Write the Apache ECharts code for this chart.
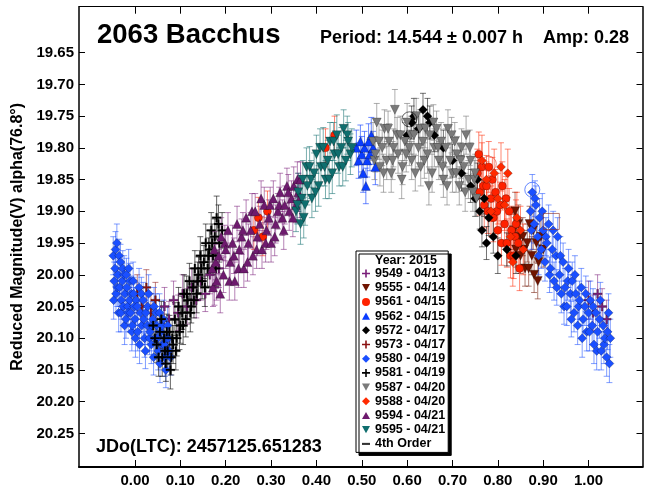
<!DOCTYPE html>
<html>
<head>
<meta charset="utf-8">
<script src="https://cdn.jsdelivr.net/npm/echarts@6/dist/echarts.min.js"></script>
<style>
  html, body { margin: 0; padding: 0; background: #fff; }
  #chart { width: 647px; height: 489px; }
</style>
</head>
<body>
<div id="chart"></div>
<script>
// Lightcurve of 2063 Bacchus, phased to P = 14.544 h.
// Each point: [phase, reduced magnitude, error]

const phaseTicks = [0.0, 0.1, 0.2, 0.3, 0.4, 0.5, 0.6, 0.7, 0.8, 0.9, 1.0];
const magTicks = [19.65, 19.70, 19.75, 19.80, 19.85, 19.90, 19.95, 20.00, 20.05, 20.10, 20.15, 20.20, 20.25];

const s9549 = [
  [0.065, 20.05, 0.030], [0.075, 20.07, 0.028], [0.085, 20.04, 0.030], [0.095, 20.06, 0.028],
  [0.105, 20.03, 0.030], [0.115, 20.05, 0.028], [0.125, 20.02, 0.030], [0.135, 20.04, 0.028],
  [0.145, 20.01, 0.030], [0.155, 20.03, 0.028], [0.165, 20.00, 0.030], [0.175, 20.02, 0.028],
  [0.185, 19.99, 0.030], [1.000, 20.04, 0.030], [1.010, 20.06, 0.028], [1.020, 20.03, 0.030],
  [1.030, 20.05, 0.028], [1.040, 20.07, 0.030]
];
const s9555 = [
  [0.835, 19.93, 0.030], [0.838, 19.90, 0.030], [0.840, 19.96, 0.028], [0.845, 19.92, 0.030],
  [0.848, 19.94, 0.028], [0.850, 19.97, 0.028], [0.855, 19.94, 0.030], [0.858, 19.96, 0.030],
  [0.860, 19.99, 0.028], [0.865, 19.95, 0.030], [0.868, 19.99, 0.028], [0.870, 19.92, 0.028],
  [0.875, 19.97, 0.030], [0.878, 19.93, 0.030], [0.880, 20.00, 0.028], [0.885, 19.95, 0.030],
  [0.888, 20.01, 0.028], [0.890, 19.98, 0.028], [0.895, 19.94, 0.030], [0.900, 19.96, 0.028]
];
const s9561 = [
  [0.262, 19.93, 0.030], [0.272, 19.91, 0.032], [0.282, 19.94, 0.030], [0.292, 19.90, 0.032],
  [0.420, 19.80, 0.030], [0.440, 19.78, 0.030],
  [0.755, 19.84, 0.038], [0.758, 19.81, 0.035], [0.760, 19.87, 0.036], [0.765, 19.83, 0.038],
  [0.768, 19.86, 0.035], [0.770, 19.89, 0.036], [0.775, 19.86, 0.038], [0.778, 19.90, 0.035],
  [0.780, 19.83, 0.040], [0.785, 19.88, 0.036], [0.788, 19.85, 0.035], [0.790, 19.91, 0.038],
  [0.795, 19.87, 0.036], [0.798, 19.90, 0.035], [0.800, 19.93, 0.038], [0.805, 19.89, 0.036],
  [0.808, 19.95, 0.035], [0.810, 19.86, 0.038], [0.815, 19.92, 0.036], [0.818, 19.88, 0.035],
  [0.820, 19.95, 0.038], [0.825, 19.90, 0.036], [0.828, 19.97, 0.035], [0.830, 19.93, 0.038],
  [0.835, 19.97, 0.036], [0.838, 19.94, 0.035], [0.840, 19.92, 0.038], [0.845, 19.95, 0.036],
  [0.848, 19.99, 0.035]
];
const s9562 = [
  [0.488, 19.80, 0.028], [0.493, 19.82, 0.028], [0.497, 19.79, 0.026], [0.500, 19.81, 0.028],
  [0.503, 19.84, 0.030], [0.506, 19.80, 0.026], [0.509, 19.86, 0.028], [0.512, 19.82, 0.026],
  [0.515, 19.79, 0.028], [0.518, 19.81, 0.026], [0.521, 19.78, 0.028], [0.525, 19.80, 0.026],
  [0.530, 19.83, 0.028]
];
const s9572 = [
  [0.600, 19.78, 0.026], [0.610, 19.76, 0.026], [0.615, 19.75, 0.028], [0.625, 19.77, 0.026],
  [0.635, 19.74, 0.026], [0.645, 19.75, 0.028], [0.650, 19.76, 0.026], [0.660, 19.78, 0.026],
  [0.680, 19.80, 0.028], [0.700, 19.82, 0.026], [0.720, 19.84, 0.028], [0.740, 19.86, 0.026],
  [0.750, 19.88, 0.028], [0.755, 19.85, 0.026], [0.760, 19.90, 0.028], [0.765, 19.93, 0.026],
  [0.770, 19.88, 0.028], [0.775, 19.95, 0.026], [0.780, 19.91, 0.028], [0.790, 19.94, 0.026],
  [0.800, 19.97, 0.028], [0.820, 19.96, 0.026], [0.840, 19.97, 0.028]
];
const s9573 = [
  [0.005, 20.03, 0.030], [0.015, 20.05, 0.030], [0.025, 20.02, 0.028], [0.035, 20.06, 0.030],
  [0.045, 20.04, 0.028]
];
const s9580 = [
  [-0.048, 19.97, 0.030], [-0.047, 20.04, 0.030], [-0.046, 20.01, 0.030], [-0.044, 19.99, 0.028],
  [-0.043, 19.96, 0.028], [-0.042, 20.03, 0.030], [-0.040, 19.95, 0.030], [-0.039, 20.02, 0.030],
  [-0.038, 20.00, 0.028], [-0.036, 20.06, 0.030], [-0.035, 19.97, 0.026], [-0.034, 20.02, 0.030],
  [-0.032, 19.98, 0.028], [-0.031, 20.06, 0.030], [-0.030, 20.04, 0.030], [-0.028, 20.01, 0.028],
  [-0.027, 19.99, 0.028], [-0.026, 20.05, 0.030], [-0.024, 20.00, 0.030], [-0.023, 20.08, 0.030],
  [-0.022, 20.03, 0.028], [-0.020, 20.07, 0.030], [-0.019, 20.00, 0.026], [-0.018, 20.02, 0.030],
  [-0.016, 20.05, 0.028], [-0.015, 20.06, 0.030], [-0.014, 19.99, 0.030], [-0.012, 20.04, 0.030],
  [-0.011, 20.01, 0.028], [-0.010, 20.06, 0.030], [-0.008, 20.03, 0.028], [-0.007, 20.09, 0.030],
  [-0.006, 20.08, 0.030], [-0.004, 20.01, 0.030], [-0.003, 20.03, 0.026], [-0.002, 20.05, 0.030],
  [0.000, 20.07, 0.030], [0.001, 20.10, 0.030], [0.003, 20.04, 0.028], [0.005, 20.05, 0.028],
  [0.006, 20.09, 0.030], [0.009, 20.02, 0.030], [0.010, 20.11, 0.030], [0.012, 20.06, 0.030],
  [0.014, 20.03, 0.026], [0.015, 20.08, 0.030], [0.018, 20.04, 0.028], [0.019, 20.07, 0.030],
  [0.021, 20.10, 0.030], [0.023, 20.12, 0.028], [0.024, 20.06, 0.030], [0.027, 20.08, 0.030],
  [0.028, 20.05, 0.030], [0.030, 20.03, 0.030], [0.032, 20.10, 0.026], [0.033, 20.09, 0.030],
  [0.036, 20.11, 0.030], [0.037, 20.08, 0.030], [0.039, 20.07, 0.028], [0.041, 20.13, 0.028],
  [0.042, 20.05, 0.030], [0.045, 20.10, 0.030], [0.046, 20.06, 0.030], [0.048, 20.08, 0.030],
  [0.050, 20.10, 0.026], [0.051, 20.12, 0.030], [0.054, 20.06, 0.030], [0.055, 20.14, 0.030],
  [0.057, 20.09, 0.028], [0.059, 20.08, 0.028], [0.060, 20.11, 0.030], [0.063, 20.07, 0.030],
  [0.064, 20.11, 0.030], [0.066, 20.13, 0.030], [0.068, 20.15, 0.028], [0.069, 20.10, 0.030],
  [0.072, 20.08, 0.030], [0.073, 20.10, 0.030], [0.075, 20.12, 0.030], [0.078, 20.13, 0.028],
  [0.872, 19.90, 0.030], [0.874, 19.93, 0.030], [0.876, 19.87, 0.028], [0.880, 19.92, 0.030],
  [0.882, 19.88, 0.028], [0.884, 19.89, 0.030], [0.888, 19.94, 0.030], [0.890, 19.97, 0.030],
  [0.892, 19.91, 0.030], [0.896, 19.96, 0.030], [0.898, 19.90, 0.028], [0.900, 19.93, 0.030],
  [0.904, 19.98, 0.030], [0.906, 19.94, 0.030], [0.908, 19.95, 0.028], [0.912, 19.92, 0.030],
  [0.914, 20.00, 0.028], [0.916, 19.99, 0.030], [0.920, 19.96, 0.030], [0.922, 19.93, 0.030],
  [0.924, 20.01, 0.030], [0.928, 19.97, 0.030], [0.930, 20.02, 0.028], [0.932, 19.94, 0.030],
  [0.936, 20.00, 0.030], [0.938, 19.97, 0.030], [0.940, 20.03, 0.030], [0.944, 19.98, 0.030],
  [0.946, 20.05, 0.028], [0.948, 20.02, 0.030], [0.952, 20.05, 0.030], [0.954, 20.01, 0.030],
  [0.956, 19.99, 0.030], [0.960, 20.03, 0.030], [0.962, 20.07, 0.028], [0.964, 20.01, 0.030],
  [0.968, 20.06, 0.030], [0.970, 20.00, 0.030], [0.972, 20.03, 0.030], [0.976, 20.08, 0.030],
  [0.978, 20.05, 0.028], [0.980, 20.04, 0.030], [0.984, 20.02, 0.030], [0.986, 20.10, 0.030],
  [0.988, 20.07, 0.030], [0.992, 20.05, 0.030], [0.994, 20.03, 0.028], [0.996, 20.09, 0.030],
  [1.000, 20.06, 0.030], [1.002, 20.09, 0.030], [1.004, 20.04, 0.030], [1.008, 20.08, 0.030],
  [1.010, 20.05, 0.028], [1.012, 20.11, 0.030], [1.016, 20.06, 0.030], [1.018, 20.12, 0.030],
  [1.020, 20.09, 0.030], [1.024, 20.07, 0.030], [1.026, 20.04, 0.028], [1.028, 20.12, 0.030],
  [1.032, 20.08, 0.030], [1.034, 20.11, 0.030], [1.036, 20.10, 0.030], [1.040, 20.13, 0.030],
  [1.042, 20.09, 0.028], [1.044, 20.06, 0.030], [1.046, 20.14, 0.030], [1.048, 20.10, 0.030]
];
const s9581 = [
  [0.040, 20.08, 0.026], [0.044, 20.10, 0.028], [0.048, 20.11, 0.028], [0.052, 20.13, 0.030],
  [0.055, 20.09, 0.026], [0.058, 20.07, 0.028], [0.060, 20.13, 0.030], [0.064, 20.10, 0.026],
  [0.066, 20.12, 0.030], [0.068, 20.14, 0.028], [0.070, 20.09, 0.028], [0.072, 20.12, 0.030],
  [0.076, 20.09, 0.026], [0.078, 20.15, 0.030], [0.080, 20.13, 0.028], [0.082, 20.10, 0.028],
  [0.084, 20.11, 0.030], [0.088, 20.07, 0.026], [0.090, 20.12, 0.030], [0.092, 20.10, 0.028],
  [0.096, 20.05, 0.030], [0.098, 20.09, 0.028], [0.100, 20.08, 0.028], [0.104, 20.06, 0.026],
  [0.106, 20.08, 0.030], [0.108, 20.03, 0.030], [0.112, 20.07, 0.028], [0.114, 20.03, 0.028],
  [0.116, 20.04, 0.030], [0.120, 20.01, 0.028], [0.122, 20.06, 0.030], [0.124, 20.05, 0.026],
  [0.128, 20.02, 0.030], [0.130, 20.04, 0.028], [0.132, 19.99, 0.028], [0.136, 20.03, 0.030],
  [0.138, 20.01, 0.030], [0.140, 20.00, 0.028], [0.144, 19.97, 0.030], [0.146, 19.99, 0.028],
  [0.148, 20.01, 0.028], [0.152, 19.98, 0.026], [0.154, 20.02, 0.030], [0.156, 19.95, 0.030],
  [0.160, 19.99, 0.028], [0.162, 19.97, 0.028], [0.164, 19.96, 0.030], [0.168, 19.93, 0.028],
  [0.170, 19.95, 0.030], [0.172, 19.97, 0.030], [0.176, 19.94, 0.028], [0.178, 19.99, 0.028],
  [0.180, 19.91, 0.034], [0.184, 19.92, 0.030], [0.186, 19.95, 0.030], [0.192, 19.93, 0.028]
];
const s9587 = [
  [0.525, 19.79, 0.030], [0.528, 19.82, 0.030], [0.530, 19.81, 0.028], [0.533, 19.76, 0.030],
  [0.538, 19.79, 0.028], [0.540, 19.83, 0.030], [0.545, 19.80, 0.028], [0.548, 19.84, 0.030],
  [0.550, 19.77, 0.030], [0.555, 19.82, 0.030], [0.558, 19.77, 0.028], [0.560, 19.79, 0.028],
  [0.565, 19.84, 0.030], [0.568, 19.82, 0.030], [0.570, 19.80, 0.030], [0.573, 19.74, 0.032],
  [0.578, 19.78, 0.028], [0.580, 19.81, 0.030], [0.585, 19.78, 0.030], [0.588, 19.85, 0.030],
  [0.590, 19.83, 0.028], [0.595, 19.79, 0.030], [0.598, 19.81, 0.028], [0.600, 19.76, 0.030],
  [0.605, 19.80, 0.028], [0.608, 19.78, 0.030], [0.610, 19.82, 0.030], [0.615, 19.78, 0.030],
  [0.618, 19.84, 0.028], [0.620, 19.75, 0.028], [0.625, 19.80, 0.030], [0.628, 19.77, 0.030],
  [0.630, 19.83, 0.030], [0.635, 19.79, 0.028], [0.638, 19.82, 0.028], [0.640, 19.77, 0.030],
  [0.645, 19.81, 0.030], [0.648, 19.86, 0.030], [0.650, 19.78, 0.028], [0.655, 19.84, 0.030],
  [0.658, 19.76, 0.028], [0.660, 19.80, 0.030], [0.665, 19.77, 0.028], [0.668, 19.80, 0.030],
  [0.670, 19.82, 0.030], [0.675, 19.79, 0.030], [0.678, 19.83, 0.028], [0.680, 19.85, 0.028],
  [0.685, 19.80, 0.030], [0.688, 19.86, 0.030], [0.690, 19.77, 0.030], [0.695, 19.82, 0.028],
  [0.698, 19.78, 0.028], [0.700, 19.84, 0.030], [0.705, 19.79, 0.030], [0.708, 19.84, 0.030],
  [0.710, 19.81, 0.028], [0.715, 19.86, 0.030], [0.718, 19.82, 0.028], [0.720, 19.80, 0.030],
  [0.725, 19.83, 0.028], [0.728, 19.87, 0.030], [0.730, 19.78, 0.030], [0.735, 19.85, 0.030],
  [0.738, 19.80, 0.028], [0.740, 19.82, 0.028], [0.745, 19.87, 0.030], [0.748, 19.85, 0.030],
  [0.750, 19.84, 0.030], [0.753, 19.88, 0.028]
];
const s9588 = [
  [0.765, 19.82, 0.040], [0.775, 19.85, 0.038], [0.785, 19.90, 0.040], [0.792, 19.84, 0.038],
  [0.800, 19.88, 0.040], [0.807, 19.83, 0.038], [0.815, 19.89, 0.040], [0.822, 19.84, 0.038],
  [0.828, 19.94, 0.040], [0.833, 19.98, 0.038], [0.842, 19.91, 0.040], [0.850, 19.93, 0.038],
  [0.856, 19.96, 0.040]
];
const s9594 = [
  [0.170, 19.99, 0.030], [0.172, 20.02, 0.030], [0.175, 19.96, 0.028], [0.178, 19.98, 0.028],
  [0.180, 20.01, 0.030], [0.185, 19.97, 0.028], [0.188, 20.03, 0.030], [0.190, 19.94, 0.030],
  [0.195, 20.00, 0.028], [0.198, 19.95, 0.028], [0.200, 19.96, 0.030], [0.205, 19.93, 0.028],
  [0.208, 20.01, 0.030], [0.210, 19.98, 0.030], [0.215, 19.95, 0.028], [0.218, 19.97, 0.028],
  [0.220, 20.01, 0.030], [0.225, 19.92, 0.028], [0.228, 19.99, 0.030], [0.230, 19.96, 0.030],
  [0.235, 19.94, 0.028], [0.238, 19.93, 0.028], [0.240, 19.99, 0.030], [0.245, 19.91, 0.028],
  [0.248, 19.98, 0.030], [0.250, 19.95, 0.030], [0.255, 19.93, 0.028], [0.258, 19.90, 0.028],
  [0.260, 19.97, 0.030], [0.265, 19.90, 0.028], [0.268, 19.96, 0.030], [0.270, 19.94, 0.030],
  [0.275, 19.92, 0.028], [0.278, 19.88, 0.028], [0.280, 19.96, 0.030], [0.285, 19.89, 0.028],
  [0.288, 19.95, 0.030], [0.290, 19.93, 0.030], [0.295, 19.91, 0.028], [0.298, 19.89, 0.028],
  [0.300, 19.95, 0.030], [0.305, 19.88, 0.028], [0.308, 19.94, 0.030], [0.310, 19.92, 0.030],
  [0.315, 19.90, 0.028], [0.318, 19.89, 0.028], [0.320, 19.87, 0.030], [0.325, 19.91, 0.028],
  [0.328, 19.93, 0.030], [0.330, 19.89, 0.030], [0.335, 19.86, 0.028], [0.338, 19.87, 0.028],
  [0.340, 19.90, 0.030], [0.345, 19.88, 0.028], [0.348, 19.91, 0.030], [0.350, 19.86, 0.030],
  [0.355, 19.89, 0.028], [0.358, 19.85, 0.028], [0.360, 19.87, 0.030], [0.363, 19.88, 0.030],
  [0.365, 19.85, 0.028]
];
const s9595 = [
  [0.355, 19.90, 0.032], [0.358, 19.89, 0.030], [0.360, 19.87, 0.030], [0.365, 19.92, 0.032],
  [0.368, 19.88, 0.030], [0.370, 19.85, 0.030], [0.372, 19.91, 0.032], [0.375, 19.89, 0.032],
  [0.378, 19.83, 0.030], [0.380, 19.86, 0.030], [0.385, 19.83, 0.032], [0.388, 19.85, 0.030],
  [0.390, 19.88, 0.030], [0.395, 19.84, 0.032], [0.398, 19.87, 0.030], [0.400, 19.81, 0.030],
  [0.405, 19.86, 0.032], [0.408, 19.80, 0.030], [0.410, 19.83, 0.030], [0.415, 19.80, 0.032],
  [0.418, 19.83, 0.030], [0.420, 19.85, 0.030], [0.425, 19.82, 0.032], [0.428, 19.85, 0.030],
  [0.430, 19.79, 0.030], [0.435, 19.84, 0.032], [0.438, 19.79, 0.030], [0.440, 19.81, 0.030],
  [0.445, 19.78, 0.032], [0.448, 19.81, 0.030], [0.450, 19.83, 0.030], [0.455, 19.80, 0.032],
  [0.458, 19.83, 0.030], [0.460, 19.77, 0.030], [0.465, 19.82, 0.032], [0.468, 19.78, 0.030],
  [0.470, 19.79, 0.030], [0.475, 19.81, 0.032], [0.478, 19.80, 0.030]
];

// ringed points: [phase, magnitude]
const ringedBlack = [[0.605, 19.755]];
const ringedRed = [[0.780, 19.825]];
const ringedBlue = [[0.876, 19.866]];
const boxedMaroon = [[0.918, 19.916]];

// marker shapes
const PLUS = 'path://M4,0H6V4H10V6H6V10H4V6H0V4H4Z';
const TRI_DOWN = 'path://M0,0L10,0L5,9Z';
const TRI_UP = 'path://M5,0L10,9L0,9Z';
const DIAMOND = 'path://M5,0L10,5L5,10L0,5Z';
const CIRCLE = 'circle';
const LINE = 'path://M0,0H10V2.6H0Z';

const sessions = [
  { name: '9549 - 04/13', data: s9549, color: '#7a1e7a', bar: 'rgba(122,30,122,0.55)', symbol: PLUS, size: 9 },
  { name: '9555 - 04/14', data: s9555, color: '#701400', bar: 'rgba(112,20,0,0.55)', symbol: TRI_DOWN, size: 9 },
  { name: '9561 - 04/15', data: s9561, color: '#ff2200', bar: 'rgba(255,34,0,0.55)', symbol: CIRCLE, size: 8 },
  { name: '9562 - 04/15', data: s9562, color: '#0a3cff', bar: 'rgba(10,60,255,0.6)', symbol: TRI_UP, size: 9 },
  { name: '9572 - 04/17', data: s9572, color: '#000000', bar: 'rgba(0,0,0,0.55)', symbol: DIAMOND, size: 9 },
  { name: '9573 - 04/17', data: s9573, color: '#8b1212', bar: 'rgba(139,18,18,0.55)', symbol: PLUS, size: 9 },
  { name: '9580 - 04/19', data: s9580, color: '#1a4fff', bar: 'rgba(26,79,255,0.55)', symbol: DIAMOND, size: 9 },
  { name: '9581 - 04/19', data: s9581, color: '#000000', bar: 'rgba(0,0,0,0.6)', symbol: PLUS, size: 9 },
  { name: '9587 - 04/20', data: s9587, color: '#7a7a7a', bar: 'rgba(120,120,120,0.6)', symbol: TRI_DOWN, size: 9 },
  { name: '9588 - 04/20', data: s9588, color: '#ff2a00', bar: 'rgba(255,42,0,0.55)', symbol: DIAMOND, size: 9 },
  { name: '9594 - 04/21', data: s9594, color: '#6e1a6e', bar: 'rgba(122,30,122,0.55)', symbol: TRI_UP, size: 9 },
  { name: '9595 - 04/21', data: s9595, color: '#0f6e6e', bar: 'rgba(15,110,110,0.55)', symbol: TRI_DOWN, size: 9 }
];
const fitName = '4th Order';

const FONT = 'Arial, "Liberation Sans", sans-serif';

function errorBars(color) {
  return function (params, api) {
    const x = api.value(0), y = api.value(1), e = api.value(2);
    const a = api.coord([x, y - e]);
    const b = api.coord([x, y + e]);
    const w = 3;
    const style = { stroke: color, lineWidth: 1, fill: null };
    return {
      type: 'group',
      children: [
        { type: 'line', shape: { x1: a[0], y1: a[1], x2: b[0], y2: b[1] }, style: style },
        { type: 'line', shape: { x1: a[0] - w, y1: a[1], x2: a[0] + w, y2: a[1] }, style: style },
        { type: 'line', shape: { x1: b[0] - w, y1: b[1], x2: b[0] + w, y2: b[1] }, style: style }
      ]
    };
  };
}

const series = [];
sessions.forEach(function (s) {
  series.push({
    type: 'custom',
    name: s.name + ' err',
    renderItem: errorBars(s.bar),
    data: s.data,
    encode: { x: 0, y: 1 },
    clip: true,
    silent: true,
    z: 2
  });
});
sessions.forEach(function (s) {
  series.push({
    type: 'scatter',
    name: s.name,
    data: s.data,
    encode: { x: 0, y: 1 },
    symbol: s.symbol,
    symbolSize: s.size,
    itemStyle: { color: s.color, borderColor: 'rgba(0,0,0,0.6)', borderWidth: 0.4, opacity: 1 },
    clip: true,
    z: 3
  });
});

// open rings / box around a few flagged points
function ring(name, data, color, symbol, size) {
  return {
    type: 'scatter', name: name, data: data, symbol: symbol, symbolSize: size,
    itemStyle: { color: 'rgba(0,0,0,0)', borderColor: color, borderWidth: 1 },
    silent: true, z: 4
  };
}
series.push(ring('ring-black', ringedBlack, 'rgba(0,0,0,0.75)', 'circle', 15));
series.push(ring('ring-red', ringedRed, 'rgba(230,60,40,0.8)', 'circle', 15));
series.push(ring('ring-blue', ringedBlue, 'rgba(30,80,255,0.85)', 'circle', 15));
series.push(ring('box-maroon', boxedMaroon, 'rgba(140,50,40,0.8)', 'rect', 16));

// the fitted curve entry in the key
series.push({
  type: 'scatter',
  name: fitName,
  data: [],
  itemStyle: { color: '#000' }
});

const xMin = -0.1235, xMax = 1.119;
const yMin = 19.5775, yMax = 20.303;

const chart = echarts.init(document.getElementById('chart'), null, { renderer: 'canvas' });
chart.setOption({
  animation: false,
  backgroundColor: '#fff',
  grid: { left: 79, right: 4.5, top: 6.7, bottom: 22 },
  xAxis: [
    {
      type: 'value', min: xMin, max: xMax, position: 'bottom',
      axisLine: { show: true, onZero: false, lineStyle: { color: '#000', width: 2 } },
      axisTick: { show: true, inside: true, length: 7, customValues: phaseTicks, lineStyle: { color: '#000', width: 1 } },
      axisLabel: {
        show: true, customValues: phaseTicks, margin: 6,
        formatter: function (v) { return v.toFixed(2); },
        color: '#000', fontFamily: FONT, fontWeight: 'bold', fontSize: 15
      },
      splitLine: { show: false }
    },
    {
      type: 'value', min: xMin, max: xMax, position: 'top',
      axisLine: { show: true, onZero: false, lineStyle: { color: '#000', width: 1 } },
      axisTick: { show: true, inside: true, length: 7, customValues: phaseTicks, lineStyle: { color: '#000', width: 1 } },
      axisLabel: { show: false },
      splitLine: { show: false }
    }
  ],
  yAxis: [
    {
      type: 'value', min: yMin, max: yMax, inverse: true, position: 'left',
      name: 'Reduced Magnitude(V) alpha(76.8°)',
      nameLocation: 'middle', nameGap: 52, nameRotate: 90,
      nameTextStyle: { color: '#000', fontFamily: FONT, fontWeight: 'bold', fontSize: 16 },
      axisLine: { show: true, onZero: false, lineStyle: { color: '#000', width: 1.5 } },
      axisTick: { show: true, inside: true, length: 6, customValues: magTicks, lineStyle: { color: '#000', width: 1 } },
      axisLabel: {
        show: true, customValues: magTicks, margin: 5,
        formatter: function (v) { return v.toFixed(2); },
        color: '#000', fontFamily: FONT, fontWeight: 'bold', fontSize: 15
      },
      splitLine: { show: false }
    },
    {
      type: 'value', min: yMin, max: yMax, inverse: true, position: 'right',
      axisLine: { show: true, onZero: false, lineStyle: { color: '#000', width: 1.5 } },
      axisTick: { show: true, inside: true, length: 6, customValues: magTicks, lineStyle: { color: '#000', width: 1 } },
      axisLabel: { show: false },
      splitLine: { show: false }
    }
  ],
  legend: {
    left: 356, top: 251,
    orient: 'vertical',
    padding: [16, 3, 2, 6],
    itemWidth: 8, itemHeight: 8, itemGap: 1.2,
    backgroundColor: '#fff',
    borderColor: '#000', borderWidth: 1,
    shadowColor: '#000', shadowBlur: 0, shadowOffsetX: 3, shadowOffsetY: 3,
    selectedMode: false,
    textStyle: { color: '#000', fontFamily: FONT, fontWeight: 'bold', fontSize: 12.5, lineHeight: 13 },
    data: sessions.map(function (s) {
      return { name: s.name, icon: s.symbol, itemStyle: { color: s.color, borderWidth: 0 } };
    }).concat([{ name: fitName, icon: LINE, itemStyle: { color: '#000', borderWidth: 0 } }])
  },
  graphic: [
    { type: 'text', left: 97, top: 21, z: 100, style: { text: '2063 Bacchus', fill: '#000', font: 'bold 27.5px ' + FONT } },
    { type: 'text', left: 320, top: 29, z: 100, style: { text: 'Period: 14.544 ± 0.007 h', fill: '#000', font: 'bold 18px ' + FONT } },
    { type: 'text', right: 18, top: 29, z: 100, style: { text: 'Amp: 0.28', fill: '#000', font: 'bold 18px ' + FONT } },
    { type: 'text', left: 96, top: 438, z: 100, style: { text: 'JDo(LTC): 2457125.651283', fill: '#000', font: 'bold 18px ' + FONT } },
    { type: 'text', left: 375, top: 254, z: 100, style: { text: 'Year: 2015', fill: '#000', font: 'bold 12.5px ' + FONT } }
  ],
  series: series
});
</script>
</body>
</html>
